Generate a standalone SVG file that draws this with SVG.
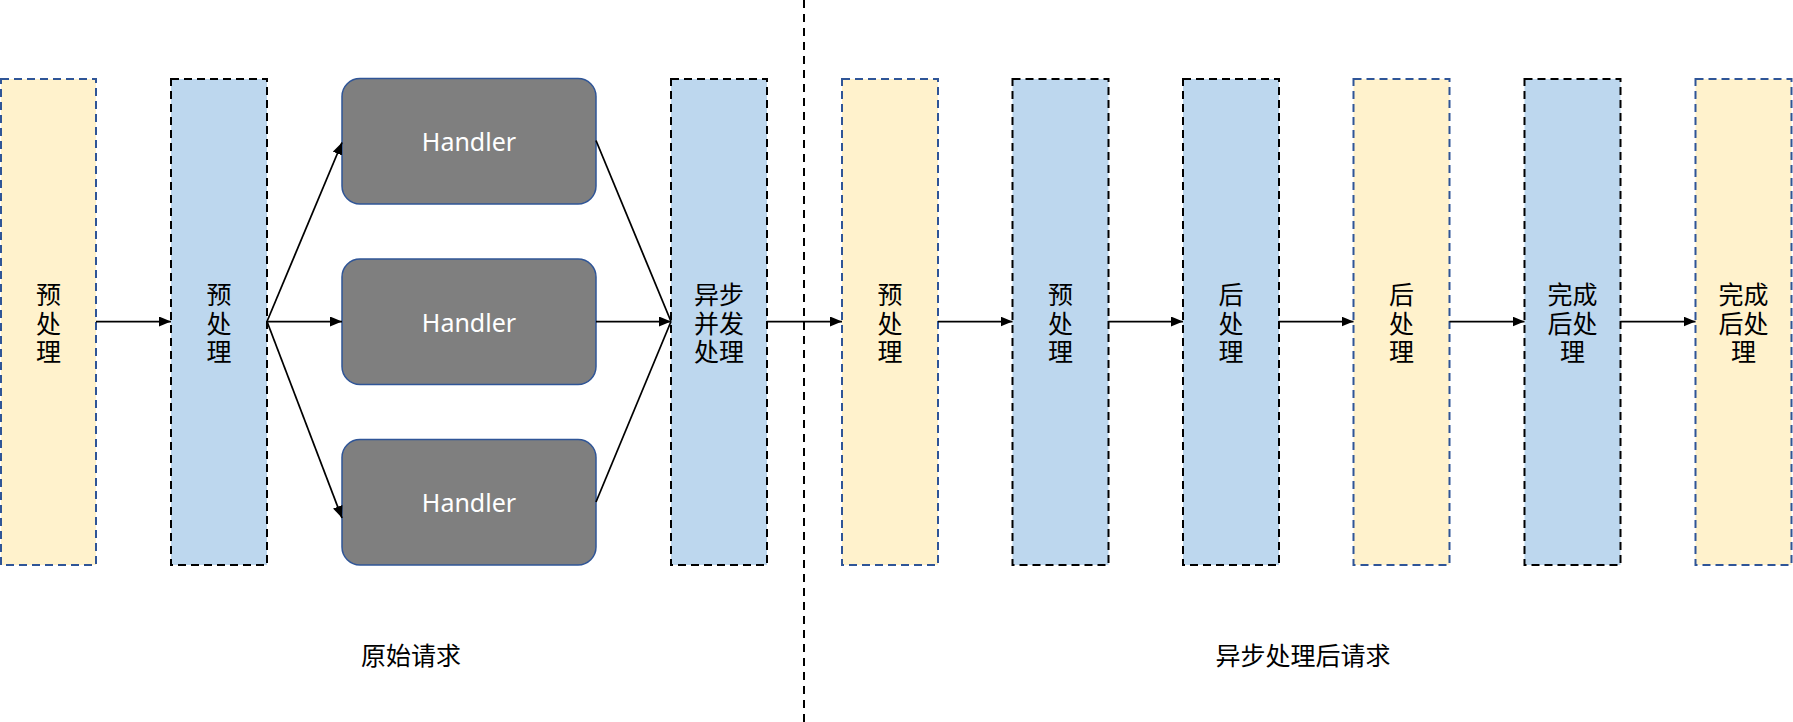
<svg xmlns="http://www.w3.org/2000/svg" width="1793" height="722" viewBox="0 0 1793 722">
  <style>
    .stage { stroke-width: 2; stroke-dasharray: 8 5; }
    .yellow { fill: #FFF2CC; stroke: #2F5597; }
    .blue { fill: #BDD7EE; stroke: #000000; }
    .handler { fill: #7F7F7F; stroke: #2F5597; stroke-width: 1.5; }
    .cjk { font-family: "Noto Sans CJK SC", "Noto Sans", sans-serif; font-size: 25px; fill: #000000; text-anchor: middle; dominant-baseline: central; }
    .hl { font-family: "Noto Sans", "Open Sans", sans-serif; font-size: 25px; fill: #FFFFFF; text-anchor: middle; dominant-baseline: central; }
    .conn { stroke: #000000; stroke-width: 1.75; fill: none; }
    .divider { stroke: #000000; stroke-width: 2; stroke-dasharray: 8 6; }
  </style>
  <defs>
    <marker id="arrow" markerUnits="userSpaceOnUse" markerWidth="13" markerHeight="11" refX="12" refY="5" orient="auto">
      <path d="M0,0 L12,5 L0,10 z" fill="#000000"/>
    </marker>
  </defs>

  <line id="divider" class="divider" x1="804" y1="0" x2="804" y2="722"/>

  <g id="n1"><rect class="stage yellow" x="1" y="79" width="95" height="486"/>
    <text class="cjk" x="48.5" y="321.5"><tspan x="48.5" dy="-28.5">预</tspan><tspan x="48.5" dy="28.5">处</tspan><tspan x="48.5" dy="28.5">理</tspan></text></g>
  <g id="n2"><rect class="stage blue" x="171" y="79" width="96" height="486"/>
    <text class="cjk" x="219" y="321.5"><tspan x="219" dy="-28.5">预</tspan><tspan x="219" dy="28.5">处</tspan><tspan x="219" dy="28.5">理</tspan></text></g>

  <g id="h1"><rect class="handler" x="342" y="78.5" width="254" height="125.5" rx="18"/>
    <text class="hl" x="469" y="141">Handler</text></g>
  <g id="h2"><rect class="handler" x="342" y="259" width="254" height="125.5" rx="18"/>
    <text class="hl" x="469" y="321.5">Handler</text></g>
  <g id="h3"><rect class="handler" x="342" y="439.5" width="254" height="125.5" rx="18"/>
    <text class="hl" x="469" y="502">Handler</text></g>

  <g id="n3"><rect class="stage blue" x="671" y="79" width="96" height="486"/>
    <text class="cjk" x="719" y="321.5"><tspan x="719" dy="-28.5">异步</tspan><tspan x="719" dy="28.5">并发</tspan><tspan x="719" dy="28.5">处理</tspan></text></g>

  <g id="n4"><rect class="stage yellow" x="842" y="79" width="96" height="486"/>
    <text class="cjk" x="890" y="321.5"><tspan x="890" dy="-28.5">预</tspan><tspan x="890" dy="28.5">处</tspan><tspan x="890" dy="28.5">理</tspan></text></g>
  <g id="n5"><rect class="stage blue" x="1012.5" y="79" width="96" height="486"/>
    <text class="cjk" x="1060.5" y="321.5"><tspan x="1060.5" dy="-28.5">预</tspan><tspan x="1060.5" dy="28.5">处</tspan><tspan x="1060.5" dy="28.5">理</tspan></text></g>
  <g id="n6"><rect class="stage blue" x="1183" y="79" width="96" height="486"/>
    <text class="cjk" x="1231" y="321.5"><tspan x="1231" dy="-28.5">后</tspan><tspan x="1231" dy="28.5">处</tspan><tspan x="1231" dy="28.5">理</tspan></text></g>
  <g id="n7"><rect class="stage yellow" x="1353.5" y="79" width="96" height="486"/>
    <text class="cjk" x="1401.5" y="321.5"><tspan x="1401.5" dy="-28.5">后</tspan><tspan x="1401.5" dy="28.5">处</tspan><tspan x="1401.5" dy="28.5">理</tspan></text></g>
  <g id="n8"><rect class="stage blue" x="1524.5" y="79" width="96" height="486"/>
    <text class="cjk" x="1572.5" y="321.5"><tspan x="1572.5" dy="-28.5">完成</tspan><tspan x="1572.5" dy="28.5">后处</tspan><tspan x="1572.5" dy="28.5">理</tspan></text></g>
  <g id="n9"><rect class="stage yellow" x="1695.5" y="79" width="96" height="486"/>
    <text class="cjk" x="1743.5" y="321.5"><tspan x="1743.5" dy="-28.5">完成</tspan><tspan x="1743.5" dy="28.5">后处</tspan><tspan x="1743.5" dy="28.5">理</tspan></text></g>

  <g id="connectors">
    <line class="conn" x1="96" y1="321.5" x2="171" y2="321.5" marker-end="url(#arrow)"/>
    <line class="conn" x1="267" y1="321.5" x2="342" y2="142.5" marker-end="url(#arrow)"/>
    <line class="conn" x1="267" y1="321.5" x2="342" y2="321.5" marker-end="url(#arrow)"/>
    <line class="conn" x1="267" y1="321.5" x2="342" y2="518" marker-end="url(#arrow)"/>
    <line class="conn" x1="596" y1="140.5" x2="671" y2="321.5"/>
    <line class="conn" x1="596" y1="321.5" x2="671" y2="321.5" marker-end="url(#arrow)"/>
    <line class="conn" x1="596" y1="502" x2="671" y2="321.5"/>
    <line class="conn" x1="767" y1="321.5" x2="842" y2="321.5" marker-end="url(#arrow)"/>
    <line class="conn" x1="938" y1="321.5" x2="1012.5" y2="321.5" marker-end="url(#arrow)"/>
    <line class="conn" x1="1108.5" y1="321.5" x2="1183" y2="321.5" marker-end="url(#arrow)"/>
    <line class="conn" x1="1279" y1="321.5" x2="1353.5" y2="321.5" marker-end="url(#arrow)"/>
    <line class="conn" x1="1449.5" y1="321.5" x2="1524.5" y2="321.5" marker-end="url(#arrow)"/>
    <line class="conn" x1="1620.5" y1="321.5" x2="1695.5" y2="321.5" marker-end="url(#arrow)"/>
  </g>

  <g id="labels">
    <text class="cjk" x="411" y="654">原始请求</text>
    <text class="cjk" x="1303" y="654">异步处理后请求</text>
  </g>
</svg>
